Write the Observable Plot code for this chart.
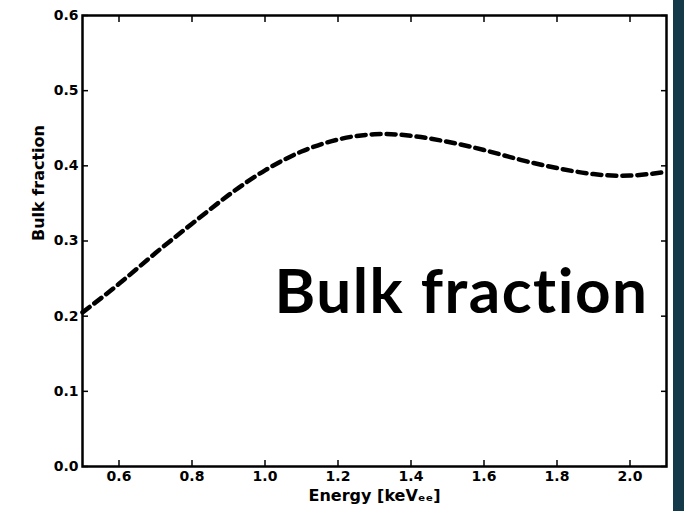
<!DOCTYPE html>
<html>
<head>
<meta charset="utf-8">
<script src="https://cdn.jsdelivr.net/npm/d3@7"></script>
<script src="https://cdn.jsdelivr.net/npm/@observablehq/plot@0.6"></script>
<style>
  html, body { margin: 0; padding: 0; background: #fff; }
  #slide { position: relative; width: 684px; height: 511px; overflow: hidden; }
  #edge { position: absolute; left: 673px; top: 0; width: 11px; height: 511px; background: #143a4a; }
</style>
</head>
<body>
<div id="slide"><div id="edge"></div></div>
<script>
// Bulk fraction vs. recoil energy
const energy = [0.5, 0.6, 0.7, 0.8, 0.9, 1.0, 1.1, 1.2, 1.3, 1.4, 1.5, 1.6, 1.7, 1.8, 1.9, 2.0, 2.1];
const bulkFraction = [0.205, 0.243, 0.284, 0.323, 0.361, 0.394, 0.419, 0.435, 0.442, 0.440, 0.432, 0.421, 0.408, 0.397, 0.389, 0.387, 0.392];
const xTicks = [0.6, 0.8, 1.0, 1.2, 1.4, 1.6, 1.8, 2.0];
const yTicks = [0.0, 0.1, 0.2, 0.3, 0.4, 0.5, 0.6];
const xLabel = "Energy [keVₑₑ]";
const yLabel = "Bulk fraction";
const headline = "Bulk fraction";

const data = energy.map((e, i) => ({energy: e, fraction: bulkFraction[i]}));

const chart = Plot.plot({
  width: 684,
  height: 511,
  marginLeft: 82,
  marginRight: 18,
  marginTop: 15,
  marginBottom: 45,
  x: {domain: [0.5, 2.1]},
  y: {domain: [0, 0.6]},
  style: {fontFamily: "DejaVu Sans", fontWeight: "bold", fontSize: "14px", background: "transparent", color: "black"},
  marks: [
    Plot.axisX({ticks: xTicks, tickSize: -6, tickPadding: 11, tickFormat: d3.format(".1f"), label: null, fontSize: 14, strokeWidth: 1.5}),
    Plot.axisX({anchor: "top", ticks: xTicks, tickSize: -6, tickFormat: () => "", label: null, strokeWidth: 1.5}),
    Plot.axisY({ticks: yTicks, tickSize: -6, tickPadding: 10, tickFormat: d3.format(".1f"), label: null, fontSize: 14, strokeWidth: 1.5}),
    Plot.axisY({anchor: "right", ticks: yTicks, tickSize: -6, tickFormat: () => "", label: null, strokeWidth: 1.5}),
    Plot.frame({stroke: "black", strokeWidth: 2.5}),
    Plot.line(data, {x: "energy", y: "fraction", curve: "natural", stroke: "black", strokeWidth: 4.5, strokeDasharray: "9,6"}),
    Plot.text([xLabel], {frameAnchor: "bottom", dy: 34, fontSize: 16, fontWeight: "bold"}),
    Plot.text([yLabel], {frameAnchor: "left", dx: -44, rotate: -90, fontSize: 16, fontWeight: "bold"}),
    Plot.text([headline], {frameAnchor: "bottom-right", dx: -18, dy: -154, textAnchor: "end", lineAnchor: "bottom", fontFamily: "Lato", fontWeight: "bold", fontSize: 62, className: "headline"})
  ]
});

// tick labels at the same bold size on both axes
d3.select(chart).selectAll('[aria-label$="tick label"]')
  .attr("font-size", 14)
  .style("font-size", "14px");

// wider letter spacing, no ligatures for the large slide title
d3.select(chart).selectAll(".headline text")
  .style("letter-spacing", "1.5px")
  .style("font-variant-ligatures", "none");

document.getElementById("slide").prepend(chart);
</script>
</body>
</html>
